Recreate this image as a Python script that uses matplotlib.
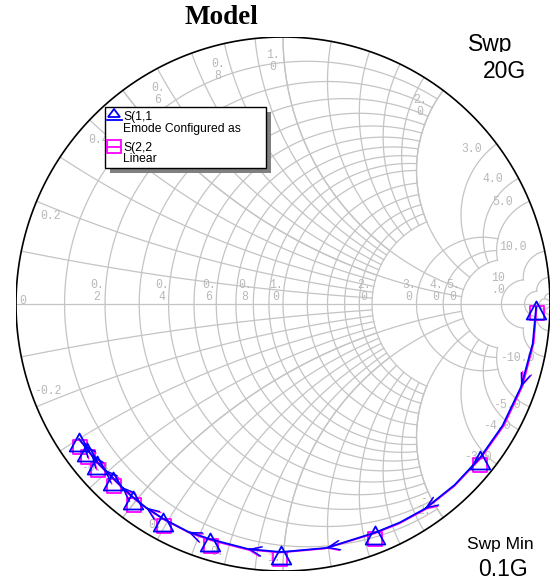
import numpy as np
import matplotlib
matplotlib.use('Agg')
import matplotlib.pyplot as plt
from matplotlib.path import Path
from matplotlib.patches import Rectangle, Polygon
from matplotlib.transforms import Bbox, TransformedBbox

# sweep points (GHz) and S-parameters as magnitude / angle (deg)
freq = [0.1, 0.5, 1, 1.5, 2, 2.5, 3, 3.5, 4, 5, 6, 7, 8, 9, 10,
        11, 12, 13, 14, 15, 16, 17, 18, 19, 20]
s11_mag = [0.948, 0.947, 0.944, 0.940, 0.936, 0.934, 0.933, 0.928, 0.923, 0.928,
           0.929, 0.927, 0.922, 0.924, 0.921, 0.919, 0.916, 0.913, 0.911, 0.912,
           0.914, 0.913, 0.913, 0.914, 0.916]
s11_ang = [-0.7, -9.0, -19.2, -29.0, -37.8, -46.5, -55.3, -61.8, -68.0, -79.9,
           -90.4, -98.1, -107.3, -112.6, -119.2, -124.0, -127.9, -131.4, -134.3, -137.2,
           -139.7, -141.9, -143.5, -145.0, -146.5]
s22_mag = [0.950, 0.950, 0.948, 0.944, 0.939, 0.936, 0.935, 0.930, 0.925, 0.929,
           0.931, 0.929, 0.925, 0.926, 0.922, 0.920, 0.918, 0.915, 0.913, 0.913,
           0.915, 0.914, 0.914, 0.914, 0.916]
s22_ang = [-0.6, -8.8, -18.9, -28.8, -38.1, -46.8, -55.6, -62.2, -68.2, -80.2,
           -90.8, -98.4, -107.0, -112.3, -118.8, -123.6, -127.4, -130.9, -133.8, -136.7,
           -139.2, -141.4, -143.0, -144.6, -146.0]
marker_freq = [0.1, 2, 4, 6, 8, 10, 12, 14, 16, 18, 20]
arrow_freq = [1, 3, 5, 7, 9, 11, 13, 15, 17, 19]

W, H = 552, 585
fig = plt.figure(figsize=(W / 100, H / 100), dpi=100)
ax = fig.add_axes([16 / W, 14 / H, 534 / W, 534 / H], zorder=1)
ax.set_xlim(-1, 1)
ax.set_ylim(-1, 1)
ax.axis('off')
# pixel space overlay for text and legend
ov = fig.add_axes([0, 0, 1, 1], zorder=3)
ov.set_xlim(0, W)
ov.set_ylim(H, 0)
ov.axis('off')
ov.patch.set_alpha(0)

grid_c = '#c4c4c4'


def gamma(z):
    return (z - 1) / (z + 1)


def r_circle(r, xmax):
    t = np.linspace(-np.arctan(xmax), np.arctan(xmax), 600)
    g = gamma(r + 1j * np.tan(t))
    ax.plot(g.real, g.imag, color=grid_c, lw=0.9, zorder=1)


def x_arc(x, rmax):
    t = np.linspace(0, np.arctan(rmax), 600)
    g = gamma(np.tan(t) + 1j * x)
    ax.plot(g.real, g.imag, color=grid_c, lw=0.9, zorder=1)


for r in np.arange(1, 11) / 10:
    r_circle(r, 2)
for r in [1.2, 1.4, 1.6, 1.8, 2.0]:
    r_circle(r, 2)
for r in [3, 4, 5]:
    r_circle(r, 5)
r_circle(10, 10)
r_circle(20, 20)
r_circle(50, 1e4)

for s in [1, -1]:
    for x in np.arange(1, 11) / 10:
        x_arc(s * x, 2)
    for x in [1.2, 1.4, 1.6, 1.8, 2.0]:
        x_arc(s * x, 2)
    for x in [0.5, 1.0, 2.0]:
        x_arc(s * x, 5)
    for x in [3, 4, 5]:
        x_arc(s * x, 5)
    x_arc(s * 10, 10)
    x_arc(s * 20, 20)
    x_arc(s * 50, 50)

ax.plot([-1, 1], [0, 0], color=grid_c, lw=0.9, zorder=1)
th = np.linspace(0, 2 * np.pi, 720)
ax.plot(np.cos(th), np.sin(th), color='black', lw=1.2, zorder=2)

# grid labels
lab_kw = dict(family='Liberation Mono', fontsize=8.3, color='#b8b8b8',
              ha='center', va='center', linespacing=1.05,
              transform=ov.transData, zorder=1.5)
grid_labels = [
    ('0.2', 51, 216), ('0.4', 99, 140), ('0.\n6', 158, 94), ('0.\n8', 218, 70),
    ('1.\n0', 273, 61), ('2.\n0', 420, 106), ('3.0', 472, 149), ('4.0', 493, 179),
    ('5.0', 503, 202), ('10.0', 513, 247),
    ('0', 23, 301), ('0.\n2', 97, 291), ('0.\n4', 162, 291), ('0.\n6', 209, 291),
    ('0.\n8', 245, 291), ('1.\n0', 276, 291), ('2.\n0', 364, 291), ('3.\n0', 409, 291),
    ('4.\n0', 436, 291), ('5.\n0', 453, 291), ('10\n.0', 498, 284),
    ('-0.2', 48, 391), ('-0.4', 95, 468), ('0.', 155, 525), ('0.', 217, 552),
    ('1.', 274, 558), ('-\n2.', 424, 505), ('-3.0', 478, 457), ('-4.0', 497, 426),
    ('-5.0', 507, 405), ('-10.0', 517, 358),
]
for s, px, py in grid_labels:
    ax.text(px, py, s, **lab_kw)

# markers hang just below the swept point
tri = Path([(0, 4), (-6.5, -8), (6.5, -8), (0, 4)],
           [Path.MOVETO, Path.LINETO, Path.LINETO, Path.CLOSEPOLY])
sq = Path([(-6.5, 1), (6.5, 1), (6.5, -12), (-6.5, -12), (-6.5, 1)],
          [Path.MOVETO, Path.LINETO, Path.LINETO, Path.LINETO, Path.CLOSEPOLY])


def trace(mag, ang, color, marker, ms, z):
    g = np.array(mag) * np.exp(1j * np.deg2rad(ang))
    ax.plot(g.real, g.imag, color=color, lw=1.3, zorder=z)
    idx = [freq.index(f) for f in marker_freq]
    ax.plot(g.real[idx], g.imag[idx], ls='none', marker=marker, ms=ms,
            mfc='none', mec=color, mew=1.3, zorder=z + 0.5)
    for f in arrow_freq:
        i = freq.index(f)
        d = g[i + 1] - g[i - 1]
        d = d / abs(d)
        tail = g[i] - 0.004 * d
        ax.annotate('', xy=(g[i].real, g[i].imag), xytext=(tail.real, tail.imag),
                    arrowprops=dict(arrowstyle='->,head_length=0.7,head_width=0.28',
                                    color=color, lw=1.0, shrinkA=0, shrinkB=0,
                                    mutation_scale=12), zorder=z)


trace(s22_mag, s22_ang, '#ff00ff', sq, 18.7, 3)
trace(s11_mag, s11_ang, '#0000ff', tri, 17.3, 5)

# titles and sweep notes
ov.text(221, 18, 'Model', family='Liberation Serif', fontweight='bold',
        fontsize=19.5, ha='center', va='center')
txt = dict(family='Liberation Sans', ha='center', va='center')
swp = ov.text(490, 44, 'Swp', fontsize=16.5, **txt)
swp.set_clip_box(TransformedBbox(Bbox([[440, 20], [545, 52]]), ov.transData))
swp.set_clip_on(True)
ov.text(505, 72, '20G', fontsize=16.5, **txt)
ov.text(500, 545, 'Swp Min', fontsize=12.5, **txt)
ov.text(503, 570, '0.1G', fontsize=16.5, **txt)

# legend box
ov.add_patch(Rectangle((110, 112), 161, 61, fc='#808080', ec='none', zorder=4))
ov.add_patch(Rectangle((105, 107), 161, 61, fc='white', ec='black', lw=1.0, zorder=5))
ov.add_patch(Polygon([(114, 109), (108, 117), (120, 117)], closed=True,
                     fc='none', ec='#0000ff', lw=1.3, zorder=6))
ov.plot([107, 122], [119.5, 119.5], color='#0000ff', lw=1.3, zorder=6)
ov.add_patch(Rectangle((107, 140), 14, 13, fc='none', ec='#ff00ff', lw=1.3, zorder=6))
ov.plot([107, 121], [146.5, 146.5], color='#ff00ff', lw=1.3, zorder=6)
leg = dict(family='Liberation Sans', fontsize=8.7, ha='left', va='center', zorder=7)
ov.text(123, 117, 'S(1,1', **leg)
ov.text(123, 129, 'Emode Configured as', **leg)
ov.text(123, 148, 'S(2,2', **leg)
ov.text(123, 159, 'Linear', **leg)

fig.savefig('out.png', dpi=100)
